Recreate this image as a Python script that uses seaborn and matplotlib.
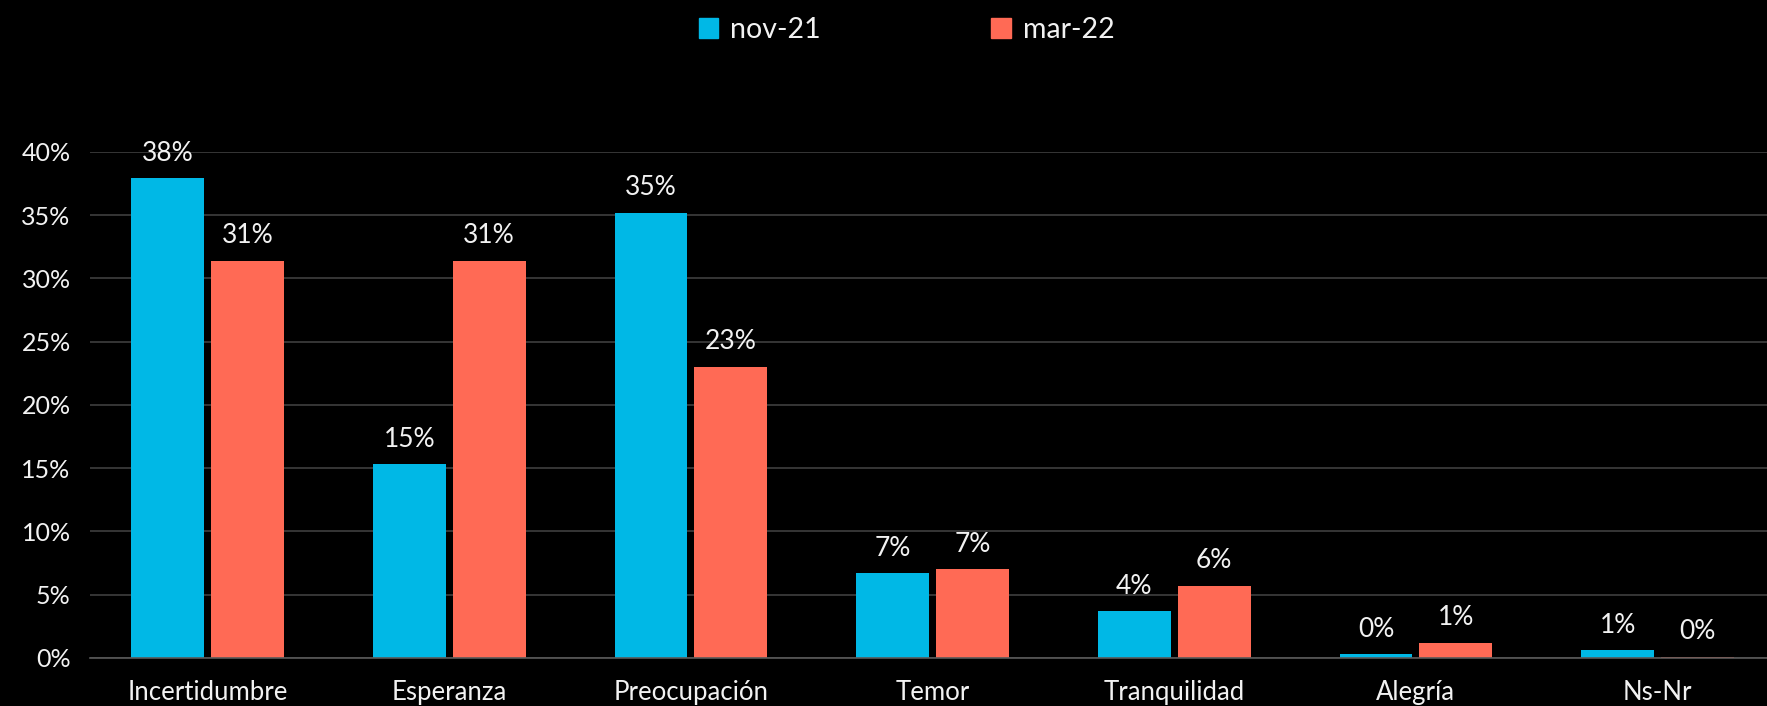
import matplotlib
matplotlib.use("Agg")
import matplotlib.pyplot as plt
import pandas as pd
import seaborn as sns
from matplotlib.ticker import PercentFormatter

categories = ["Incertidumbre", "Esperanza", "Preocupación", "Temor",
              "Tranquilidad", "Alegría", "Ns-Nr"]
periods = ["nov-21", "mar-22"]
nov_21 = [0.379, 0.153, 0.352, 0.067, 0.037, 0.003, 0.006]
mar_22 = [0.314, 0.314, 0.230, 0.070, 0.057, 0.012, 0.001]
y_ticks = [0, 0.05, 0.10, 0.15, 0.20, 0.25, 0.30, 0.35, 0.40]

COLORS = {"nov-21": "#00B8E6", "mar-22": "#FF6A55"}
TEXT = "#F2F2F2"
GRID = "#3F3F3F"

df = pd.DataFrame({
    "categoria": categories * 2,
    "periodo": [periods[0]] * len(categories) + [periods[1]] * len(categories),
    "valor": nov_21 + mar_22,
})

sns.set_theme(style="dark")
plt.rcParams["font.family"] = ["Lato", "DejaVu Sans"]

fig = plt.figure(figsize=(17.67, 7.06), dpi=100, facecolor="black")
ax = fig.add_axes([0.051, 0.068, 0.949, 0.717])
ax.set_facecolor("black")

sns.barplot(
    data=df, x="categoria", y="valor", hue="periodo",
    hue_order=periods, palette=COLORS, width=0.66, gap=0.085,
    saturation=1, linewidth=0, ax=ax, legend=False,
)

# ── data labels ──────────────────────────────────────────────────────────
for cont, vals in zip(ax.containers, [nov_21, mar_22]):
    ax.bar_label(cont, labels=[f"{v:.0%}" for v in vals], padding=9,
                 color=TEXT, fontsize=19)

# ── axes styling ─────────────────────────────────────────────────────────
ax.set_ylim(0, 0.40)
ax.set_xlim(-0.486, 6.453)
ax.set_yticks(y_ticks)
ax.yaxis.set_major_formatter(PercentFormatter(1.0, decimals=0))
ax.grid(axis="y", color=GRID, linewidth=1.2)
ax.grid(axis="x", visible=False)
ax.set_axisbelow(True)
for s in ["top", "right", "left"]:
    ax.spines[s].set_visible(False)
ax.spines["bottom"].set_color("#595959")
ax.spines["bottom"].set_linewidth(1.2)
ax.set_xlabel("")
ax.set_ylabel("")
ax.tick_params(axis="x", colors=TEXT, labelsize=18.5, pad=16, length=0)
ax.tick_params(axis="y", colors=TEXT, labelsize=18, pad=14, length=0)

# ── legend ───────────────────────────────────────────────────────────────
handles = [plt.Rectangle((0, 0), 1, 1, color=COLORS[p]) for p in periods]
leg = fig.legend(
    handles, periods, loc="upper center", bbox_to_anchor=(0.513, 1.012),
    ncol=2, frameon=False, fontsize=20.5, labelcolor=TEXT,
    handlelength=0.7, handleheight=0.7, handletextpad=0.4,
    columnspacing=6.0,
)

fig.savefig("out.png", dpi=100, facecolor="black")
